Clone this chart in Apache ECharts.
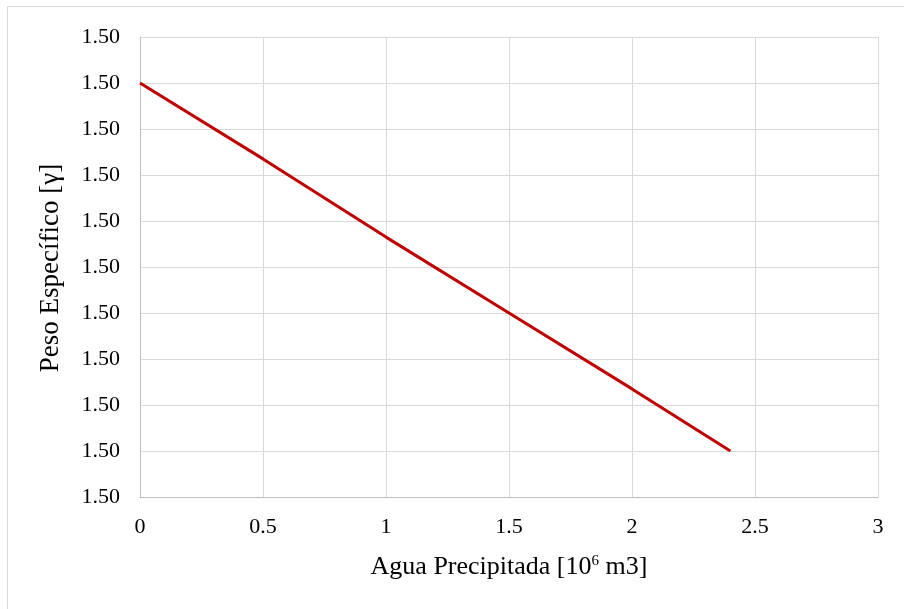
<!DOCTYPE html>
<html>
<head>
<meta charset="utf-8">
<script src="https://cdn.jsdelivr.net/npm/echarts@6/dist/echarts.min.js"></script>
<style>
html,body{margin:0;padding:0;background:#fff;}
#c{width:904px;height:609px;}
</style>
</head>
<body>
<div id="c"></div>
<script>
var xValues = [0, 0.5, 1, 1.5, 2, 2.4];
var yValues = [1.5008, 1.50047, 1.50013, 1.4998, 1.49947, 1.4992];
var xTicks = [0, 0.5, 1, 1.5, 2, 2.5, 3];
var yMin = 1.4990, yMax = 1.5010, yStep = 0.0002;

var chart = echarts.init(document.getElementById('c'));
var font = '"Liberation Serif", "Times New Roman", serif';
chart.setOption({
  animation: false,
  backgroundColor: '#fff',
  textStyle: {fontFamily: font},
  graphic: [{
    type: 'rect',
    shape: {x: 7.5, y: 6.5, width: 1000, height: 1000},
    style: {fill: 'none', stroke: '#d9d9d9', lineWidth: 1}
  }, {
    type: 'text',
    x: 51, y: 268,
    rotation: Math.PI / 2,
    style: {text: 'Peso Específico [γ]', font: '27px ' + font, fill: '#000', align: 'center', verticalAlign: 'middle'}
  }],
  grid: {left: 140, right: 26, top: 37, bottom: 112},
  xAxis: {
    type: 'value',
    min: xTicks[0], max: xTicks[xTicks.length - 1], interval: 0.5,
    name: 'Agua Precipitada [10{sup|6} m3]',
    nameLocation: 'middle', nameGap: 57,
    nameTextStyle: {fontFamily: font, fontSize: 26, color: '#000',
      rich: {sup: {fontFamily: font, fontSize: 15, color: '#000', verticalAlign: 'top', padding: [0, 0, 11, 0]}}},
    axisLine: {show: true, lineStyle: {color: '#bfbfbf', width: 1}},
    axisTick: {show: false},
    splitLine: {show: true, lineStyle: {color: '#d9d9d9', width: 1}},
    axisLabel: {fontFamily: font, fontSize: 22, color: '#000', margin: 19,
      formatter: function (v) { return String(Math.round(v * 10) / 10); }}
  },
  yAxis: {
    type: 'value',
    min: yMin, max: yMax, interval: yStep,
    axisLine: {show: true, lineStyle: {color: '#bfbfbf', width: 1}},
    axisTick: {show: false},
    splitLine: {show: true, lineStyle: {color: '#d9d9d9', width: 1}},
    axisLabel: {fontFamily: font, fontSize: 22, color: '#000', margin: 20,
      formatter: function (v) { return v.toFixed(2); }}
  },
  series: [{
    type: 'line',
    data: xValues.map(function (x, i) { return [x, yValues[i]]; }),
    showSymbol: false,
    symbol: 'none',
    lineStyle: {color: '#c00000', width: 3},
    z: 3
  }]
});
</script>
</body>
</html>
